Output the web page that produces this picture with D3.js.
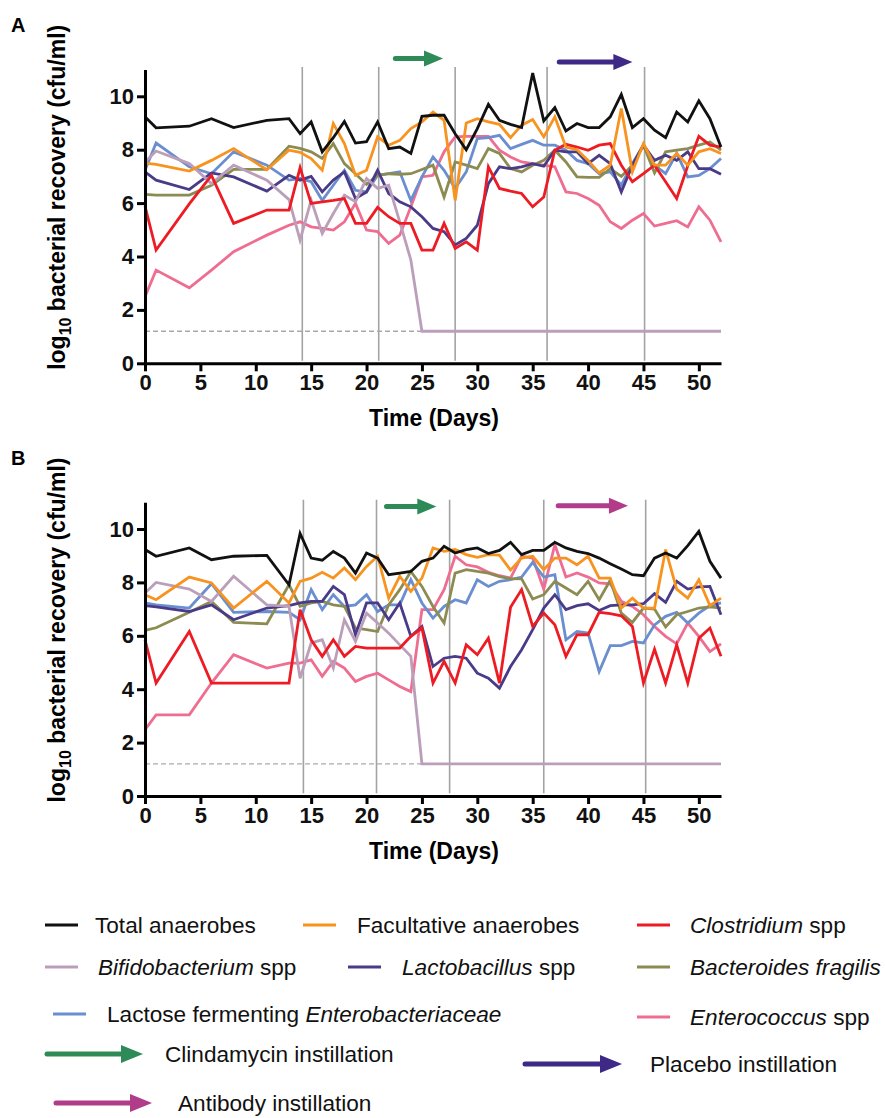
<!DOCTYPE html>
<html>
<head>
<meta charset="utf-8">
<script src="https://cdn.jsdelivr.net/npm/d3@7"></script>
<style>
  body { margin: 0; background: #fff; }
  text { font-family: "Liberation Sans", Arial, sans-serif; }
</style>
</head>
<body>
<div id="chart"></div>
<script>
// sampling days (same for both panels)
const days = [0, 1, 4, 6, 8, 11, 13, 14, 15, 16, 17, 18, 19, 20, 21, 22, 23, 24, 25, 26, 27, 28, 29, 30,
    31, 32, 33, 34, 35, 36, 37, 38, 39, 40, 41, 42, 43, 44, 45, 46, 47, 48, 49, 50, 51, 52];

// panel A (placebo)
const totalA = [9.23, 8.82, 8.88, 9.16, 8.83, 9.1, 9.16, 8.6, 9.04, 7.92, 8.45, 9.06, 8.25, 8.3, 9.04, 8.04, 8.1, 7.86, 9.25, 9.29, 9.29, 8.6, 8.0, 8.79,
    9.7, 9.1, 8.95, 8.83, 10.87, 9.08, 9.58, 8.7, 8.98, 8.83, 8.83, 9.23, 10.07, 8.83, 9.16, 8.73, 8.45, 9.41, 9.04, 9.83, 9.16, 8.1];
const faculA = [7.5, 7.45, 7.2, 7.6, 8.04, 7.25, 7.98, 7.9, 7.67, 7.23, 8.98, 8.23, 7.04, 7.23, 8.48, 8.17, 8.35, 8.79, 9.04, 9.41, 9.1, 6.1, 9.0, 9.16,
    9.04, 8.95, 8.45, 8.92, 9.13, 8.48, 9.23, 8.1, 8.0, 7.6, 7.13, 7.42, 9.54, 7.17, 8.23, 7.42, 7.42, 7.86, 7.42, 7.92, 8.04, 7.86];
const clostA = [5.89, 4.24, 5.97, 7.04, 5.24, 5.74, 5.74, 7.33, 5.99, 6.05, 6.1, 6.17, 5.24, 5.24, 5.84, 5.49, 5.24, 5.24, 4.24, 4.24, 5.24, 4.3, 4.55, 4.24,
    7.36, 6.55, 6.45, 6.36, 5.86, 6.23, 7.98, 8.2, 8.1, 7.98, 8.17, 8.23, 7.42, 6.8, 7.1, 7.42, 6.8, 6.17, 7.4, 8.5, 8.17, 8.1];
const bifidoA = [7.54, 7.95, 7.48, 6.73, 7.42, 6.86, 6.13, 4.61, 6.11, 4.86, 5.61, 6.3, 6.05, 6.92, 6.55, 6.67, 5.3, 3.87, 1.2, 1.2, 1.2, 1.2, 1.2, 1.2,
    1.2, 1.2, 1.2, 1.2, 1.2, 1.2, 1.2, 1.2, 1.2, 1.2, 1.2, 1.2, 1.2, 1.2, 1.2, 1.2, 1.2, 1.2, 1.2, 1.2, 1.2, 1.2];
const lactoA = [7.17, 6.86, 6.51, 7.13, 6.98, 6.45, 7.04, 6.86, 7.0, 6.42, 6.86, 7.17, 6.17, 6.42, 7.23, 6.36, 6.05, 5.86, 5.49, 5.05, 4.93, 4.43, 4.68, 5.17,
    6.73, 7.36, 7.29, 7.36, 7.48, 7.38, 7.98, 7.92, 7.92, 7.48, 7.79, 7.48, 6.42, 7.42, 8.17, 7.6, 7.79, 7.6, 7.92, 7.29, 7.29, 7.08];
const bactA = [6.33, 6.3, 6.3, 6.67, 7.26, 7.26, 8.13, 8.05, 7.92, 7.67, 8.23, 7.48, 7.1, 6.7, 7.04, 7.1, 7.08, 7.1, 7.26, 7.42, 6.23, 7.54, 7.42, 7.29,
    8.04, 7.86, 7.29, 7.17, 7.42, 7.6, 7.98, 7.54, 6.98, 6.96, 6.96, 7.29, 7.0, 7.42, 8.17, 7.13, 7.92, 7.98, 8.04, 8.17, 8.29, 7.98];
const lactoseA = [7.23, 8.25, 7.36, 7.1, 7.92, 7.42, 6.86, 6.92, 6.8, 6.1, 6.67, 7.23, 6.48, 6.42, 7.04, 7.1, 7.17, 6.1, 6.98, 7.73, 7.23, 6.55, 7.17, 8.42,
    8.45, 8.54, 8.04, 8.2, 8.35, 8.17, 8.17, 7.98, 7.6, 7.48, 7.1, 7.17, 6.67, 7.48, 8.17, 7.42, 7.1, 7.86, 6.98, 7.04, 7.29, 7.67];
const enteroA = [2.49, 3.49, 2.83, 3.49, 4.18, 4.8, 5.17, 5.3, 5.11, 5.05, 4.99, 5.3, 5.99, 4.99, 4.93, 4.49, 4.8, 5.86, 6.98, 7.04, 7.92, 8.48, 8.5, 8.5,
    8.5, 7.98, 7.73, 7.54, 7.48, 7.42, 7.36, 6.42, 6.36, 6.17, 5.92, 5.3, 5.05, 5.36, 5.61, 5.14, 5.24, 5.34, 5.11, 5.86, 5.36, 4.55];

// panel B (antibody)
const totalB = [9.23, 8.98, 9.29, 8.85, 8.98, 9.01, 7.91, 9.83, 8.91, 8.83, 9.16, 8.91, 8.35, 9.1, 8.91, 8.29, 8.35, 8.41, 8.79, 8.91, 9.35, 9.1, 9.23, 9.29,
    9.08, 9.2, 9.5, 9.04, 9.2, 9.2, 9.5, 9.29, 9.16, 9.08, 8.91, 8.7, 8.5, 8.29, 8.25, 8.91, 9.1, 8.91, 9.38, 9.91, 8.79, 8.16];
const faculB = [7.54, 7.35, 8.2, 7.98, 7.04, 8.04, 7.23, 8.04, 8.16, 8.38, 8.16, 8.54, 8.1, 8.6, 8.98, 7.41, 8.23, 7.66, 8.16, 9.29, 9.16, 9.23, 9.04, 8.94,
    9.04, 9.02, 8.46, 8.91, 8.98, 8.48, 8.91, 8.91, 8.66, 8.98, 8.16, 8.16, 7.04, 7.41, 7.04, 7.04, 9.23, 7.75, 7.41, 8.1, 7.13, 7.41];
const clostB = [5.85, 4.23, 6.16, 4.23, 4.23, 4.23, 4.23, 6.98, 5.85, 5.23, 5.85, 5.23, 5.6, 5.54, 5.54, 5.54, 5.54, 5.98, 6.29, 4.23, 5.04, 4.23, 5.66, 5.29,
    5.91, 4.23, 7.07, 7.73, 6.35, 6.85, 6.41, 5.23, 6.04, 6.04, 6.88, 6.83, 6.75, 6.35, 4.23, 5.5, 4.23, 5.66, 4.23, 5.91, 6.29, 5.23];
const bifidoB = [7.6, 8.0, 7.75, 7.29, 8.23, 7.16, 7.1, 4.41, 5.73, 5.85, 4.79, 6.6, 5.79, 6.85, 6.48, 6.1, 5.66, 5.23, 1.2, 1.2, 1.2, 1.2, 1.2, 1.2,
    1.2, 1.2, 1.2, 1.2, 1.2, 1.2, 1.2, 1.2, 1.2, 1.2, 1.2, 1.2, 1.2, 1.2, 1.2, 1.2, 1.2, 1.2, 1.2, 1.2, 1.2, 1.2];
const lactoB = [7.13, 7.08, 6.91, 7.16, 6.6, 7.04, 7.13, 7.23, 7.29, 7.29, 7.85, 7.54, 6.04, 7.23, 7.23, 6.6, 7.23, 5.98, 6.35, 4.85, 5.16, 5.23, 5.16, 4.6,
    4.41, 4.04, 4.85, 5.48, 6.23, 7.04, 7.54, 6.98, 7.13, 7.2, 6.95, 7.13, 7.16, 7.16, 7.2, 7.58, 7.25, 8.04, 7.75, 7.83, 7.85, 6.79];
const bactB = [6.2, 6.3, 6.88, 7.29, 6.5, 6.45, 7.91, 7.1, 7.23, 7.29, 7.16, 7.1, 6.29, 6.23, 6.16, 7.16, 7.73, 8.41, 7.85, 7.1, 6.48, 8.35, 8.48, 8.41,
    8.35, 8.22, 8.14, 8.13, 7.38, 7.54, 8.04, 7.79, 7.54, 8.04, 7.35, 8.08, 6.85, 6.5, 7.04, 7.0, 6.33, 6.79, 6.91, 7.04, 7.08, 7.04];
const lactoseB = [7.23, 7.16, 7.04, 7.95, 6.88, 6.91, 6.88, 6.6, 7.73, 6.98, 7.54, 7.1, 7.16, 7.54, 6.91, 7.16, 7.16, 8.1, 7.23, 6.66, 7.1, 7.35, 7.23, 8.1,
    7.85, 8.04, 8.1, 8.2, 8.75, 8.2, 8.29, 5.85, 6.16, 6.1, 4.66, 5.63, 5.63, 5.79, 5.73, 6.41, 6.73, 6.88, 6.48, 6.85, 7.13, 7.23];
const enteroB = [2.48, 3.04, 3.04, 4.23, 5.29, 4.79, 4.98, 4.98, 5.1, 4.48, 5.04, 4.79, 4.29, 4.48, 4.6, 4.35, 4.1, 3.91, 6.98, 6.98, 7.73, 8.98, 8.66, 8.58,
    8.38, 8.25, 8.16, 8.98, 8.91, 7.75, 9.41, 8.2, 8.35, 8.2, 7.98, 7.95, 7.29, 7.1, 6.79, 6.35, 5.98, 5.7, 6.48, 5.98, 5.41, 5.7];

const seriesKeys = ['total', 'facul', 'clost', 'bifido', 'lacto', 'bact', 'lactose', 'entero'];

// event markers (days) and instillation arrows
const vlinesA = [14.2, 21.1, 28.0, 36.3, 45.1];
const vlinesB = [14.3, 20.9, 27.5, 36.0, 45.2];
const arrowsA = [{ kind: 'clinda', from: 22.6, to: 26.9, level: 11.42 }, { kind: 'placebo', from: 37.4, to: 44.0, level: 11.28 }];
const arrowsB = [{ kind: 'clinda', from: 21.8, to: 26.3, level: 10.84 }, { kind: 'antibody', from: 37.3, to: 43.6, level: 10.87 }];
const detectionLimit = 1.2;
const xTicks = [0, 5, 10, 15, 20, 25, 30, 35, 40, 45, 50];
const yTicks = [0, 2, 4, 6, 8, 10];

const colors = {
    total: '#111111', facul: '#f7931e', clost: '#ed1c24', bifido: '#bb9fba',
    lacto: '#4a3b89', bact: '#8c8c52', lactose: '#6a8ecf', entero: '#ee6d91',
    clinda: '#2e8b57', placebo: '#3e2a86', antibody: '#b03c8a'
};

const width = 885, height = 1118;
const svg = d3.select('#chart').append('svg')
    .attr('width', width)
    .attr('height', height);

const x = d3.scaleLinear([0, 52], [145, 721]);

function arrow(g, x1, x2, y, color, head = 19, half = 8) {
    g.append('line')
        .attr('x1', x1).attr('x2', x2 - head + 2)
        .attr('y1', y).attr('y2', y)
        .attr('stroke', color).attr('stroke-width', 5).attr('stroke-linecap', 'round');
    g.append('path')
        .attr('d', `M${x2 - head},${y - half}L${x2},${y}L${x2 - head},${y + half}Z`)
        .attr('fill', color);
}

function panel(bottom, data, vlines, arrows, letter) {
    let y = d3.scaleLinear([0, 11], [bottom, bottom - 11 * 26.7]);
    let g = svg.append('g');

    // vertical event lines
    g.append('g')
        .selectAll('line')
        .data(vlines)
        .join('line')
        .attr('x1', d => x(d)).attr('x2', d => x(d))
        .attr('y1', y(11.1)).attr('y2', y(0.1))
        .attr('stroke', '#a3a3a3').attr('stroke-width', 1.6);

    // detection limit
    g.append('line')
        .attr('x1', x(0)).attr('x2', x(52))
        .attr('y1', y(detectionLimit)).attr('y2', y(detectionLimit))
        .attr('stroke', '#aaaaaa').attr('stroke-width', 1.3)
        .attr('stroke-dasharray', '5,3');

    let line = d3.line()
        .x((d, i) => x(days[i]))
        .y(d => y(d));

    g.append('g')
        .attr('fill', 'none')
        .attr('stroke-width', 2.8)
        .selectAll('path')
        .data(seriesKeys.slice().reverse())
        .join('path')
        .attr('stroke', k => colors[k])
        .attr('d', k => line(data[k]));

    arrows.forEach(a => arrow(g, x(a.from), x(a.to), y(a.level), colors[a.kind]));

    // axes
    let xAxis = g.append('g')
        .attr('transform', `translate(0,${bottom})`)
        .call(d3.axisBottom(x).tickValues(xTicks).tickSize(8).tickPadding(3).tickSizeOuter(0));
    let yAxis = g.append('g')
        .attr('transform', `translate(${x(0)},0)`)
        .call(d3.axisLeft(y).tickValues(yTicks).tickSize(8).tickPadding(3).tickSizeOuter(0));
    [xAxis, yAxis].forEach(ax => {
        ax.select('.domain').attr('stroke', '#000').attr('stroke-width', 3);
        ax.selectAll('.tick line').attr('stroke', '#000').attr('stroke-width', 3);
        ax.selectAll('.tick text')
            .attr('fill', '#111')
            .attr('font-size', 22)
            .attr('font-weight', 'bold')
            .style('font-family', '"Liberation Sans", Arial, sans-serif');
    });

    g.append('text')
        .attr('x', 434).attr('y', bottom + 63)
        .attr('text-anchor', 'middle')
        .attr('font-size', 23).attr('font-weight', 'bold')
        .text('Time (Days)');

    let yl = g.append('text')
        .attr('transform', `translate(65,${bottom - 166}) rotate(-90)`)
        .attr('text-anchor', 'middle')
        .attr('font-size', 23).attr('font-weight', 'bold');
    yl.append('tspan').text('log');
    yl.append('tspan').attr('font-size', 16).attr('dy', 6).text('10');
    yl.append('tspan').attr('dy', -6).text(' bacterial recovery (cfu/ml)');

    svg.append('text')
        .attr('x', 11).attr('y', bottom - 331)
        .attr('font-size', 20).attr('font-weight', 'bold')
        .text(letter);
}

const dataA = { total: totalA, facul: faculA, clost: clostA, bifido: bifidoA, lacto: lactoA, bact: bactA, lactose: lactoseA, entero: enteroA };
const dataB = { total: totalB, facul: faculB, clost: clostB, bifido: bifidoB, lacto: lactoB, bact: bactB, lactose: lactoseB, entero: enteroB };

panel(363.3, dataA, vlinesA, arrowsA, 'A');
panel(796, dataB, vlinesB, arrowsB, 'B');

// legend
const legend = [
    { key: 'total', x: 45, y: 925, tx: 95, parts: [['Total anaerobes', false]] },
    { key: 'facul', x: 303, y: 925, tx: 357, parts: [['Facultative anaerobes', false]] },
    { key: 'clost', x: 637, y: 925, tx: 690, parts: [['Clostridium', true], [' spp', false]] },
    { key: 'bifido', x: 45, y: 967, tx: 98, parts: [['Bifidobacterium', true], [' spp', false]] },
    { key: 'lacto', x: 348, y: 967, tx: 402, parts: [['Lactobacillus', true], [' spp', false]] },
    { key: 'bact', x: 637, y: 967, tx: 690, parts: [['Bacteroides fragilis', true]] },
    { key: 'lactose', x: 53, y: 1014, tx: 107, parts: [['Lactose fermenting ', false], ['Enterobacteriaceae', true]] },
    { key: 'entero', x: 637, y: 1017, tx: 690, parts: [['Enterococcus', true], [' spp', false]] }
];
const legendArrows = [
    { kind: 'clinda', x1: 47, x2: 143, y: 1054, tx: 165, ty: 1062, label: 'Clindamycin instillation' },
    { kind: 'placebo', x1: 525, x2: 622, y: 1064, tx: 650, ty: 1072, label: 'Placebo instillation' },
    { kind: 'antibody', x1: 56, x2: 152, y: 1103, tx: 178, ty: 1111, label: 'Antibody instillation' }
];

let lg = svg.append('g').attr('font-size', 22.6).attr('fill', '#111');
legend.forEach(d => {
    lg.append('line')
        .attr('x1', d.x).attr('x2', d.x + 33)
        .attr('y1', d.y).attr('y2', d.y)
        .attr('stroke', colors[d.key]).attr('stroke-width', 3);
    let t = lg.append('text').attr('x', d.tx).attr('y', d.y + 8);
    d.parts.forEach(p => t.append('tspan')
        .attr('font-style', p[1] ? 'italic' : 'normal')
        .text(p[0]));
});
legendArrows.forEach(d => {
    arrow(lg, d.x1, d.x2, d.y, colors[d.kind], 22, 9);
    lg.append('text').attr('x', d.tx).attr('y', d.ty).text(d.label);
});
</script>
</body>
</html>
